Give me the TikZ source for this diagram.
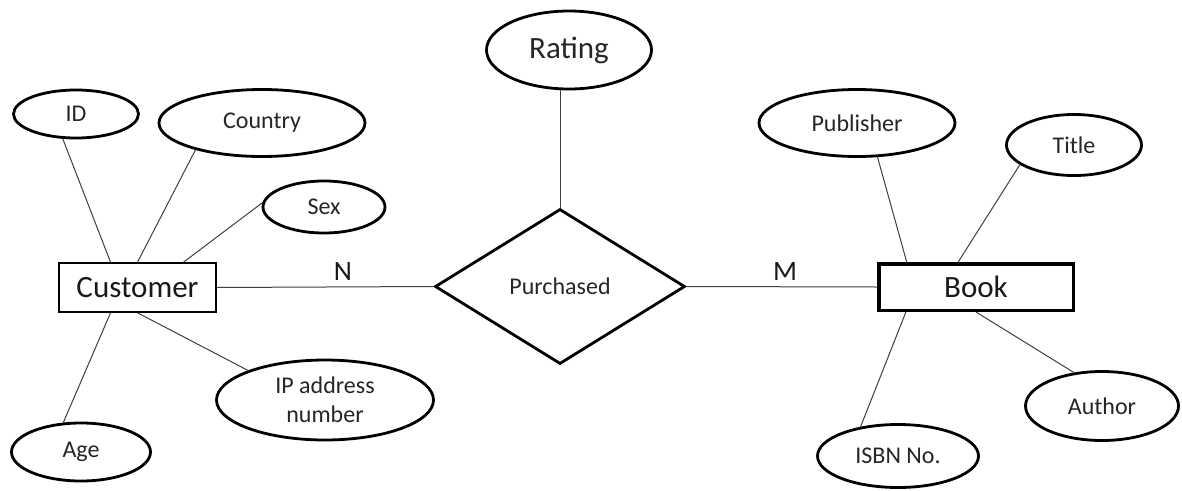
\documentclass[tikz,border=0pt]{standalone}
\usepackage{fontspec}
\setmainfont{Carlito}
\usetikzlibrary{shapes.geometric,calc}
\begin{document}
\begin{tikzpicture}[x=1pt,y=-1pt,
 attr/.style={ellipse,draw=black,line width=2.8pt,inner sep=0pt,font=\fontsize{24}{29}\selectfont,text=black!85,align=center},
 entity/.style={rectangle,draw=black,inner sep=0pt,font=\fontsize{31}{36}\selectfont,text=black!90},
 relation/.style={diamond,draw=black,line width=2.8pt,inner sep=0pt,font=\fontsize{24}{29}\selectfont,text=black!85},
 conn/.style={line width=1pt,draw=black!75},
 card/.style={font=\fontsize{28}{32}\selectfont,text=black!90,inner sep=0pt}]
\useasboundingbox[fill=white] (0,0) rectangle (1182,490);

% Customer side
\node[attr,minimum width=125pt,minimum height=48pt] (id) at (76,114) {ID};
\node[attr,minimum width=206pt,minimum height=67pt] (country) at (262,123) {Country};
\node[attr,minimum width=122pt,minimum height=52pt] (sex) at (324,207) {Sex};
\node[entity,line width=1.6pt,minimum width=157pt,minimum height=49pt] (cust) at (137.5,287.5) {Customer};
\node[attr,minimum width=217pt,minimum height=80pt] (ip) at (325,400) {IP address\\number};
\node[attr,minimum width=139pt,minimum height=58pt] (age) at (81,452) {Age};

% Relationship
\node[attr,font=\fontsize{31}{36}\selectfont,minimum width=165pt,minimum height=78pt] (rating) at (569,50) {Rating};
\node[relation,minimum width=250pt,minimum height=155pt] (purch) at (560,286.5) {Purchased};

% Book side
\node[entity,line width=3.5pt,minimum width=194.5pt,minimum height=46.5pt] (book) at (976,287) {Book};
\node[attr,minimum width=196pt,minimum height=67pt] (publisher) at (857,123) {Publisher};
\node[attr,minimum width=135pt,minimum height=61pt] (title) at (1074,145) {Title};
\node[attr,minimum width=153pt,minimum height=69pt] (author) at (1102,406) {Author};
\node[attr,minimum width=161pt,minimum height=63pt] (isbn) at (898,456) {ISBN No.};

% Cardinalities
\node[card] (n) at (343,272) {N};
\node[card] (m) at (785,272) {M};

% Connectors
\draw[conn] (id.242) -- ($(cust.north west)!0.33!(cust.north east)$);
\draw[conn] (country.202) -- (cust.north);
\draw[conn] (sex.176) -- ($(cust.north west)!0.79!(cust.north east)$);
\draw[conn] (age.121) -- ($(cust.south west)!0.33!(cust.south east)$);
\draw[conn] (ip.159) -- (cust.south);
\draw[conn] (cust.east) -- (purch.west);
\draw[conn] (purch.east) -- (book.west);
\draw[conn] (purch.north) -- (purch.north |- rating.south);
\draw[conn] (publisher.301) -- ($(book.north west)!0.15!(book.north east)$);
\draw[conn] (title.200) -- ($(book.north west)!0.41!(book.north east)$);
\draw[conn] (author.130) -- (book.south);
\draw[conn] (isbn.142) -- ($(book.south west)!0.146!(book.south east)$);
\end{tikzpicture}
\end{document}
